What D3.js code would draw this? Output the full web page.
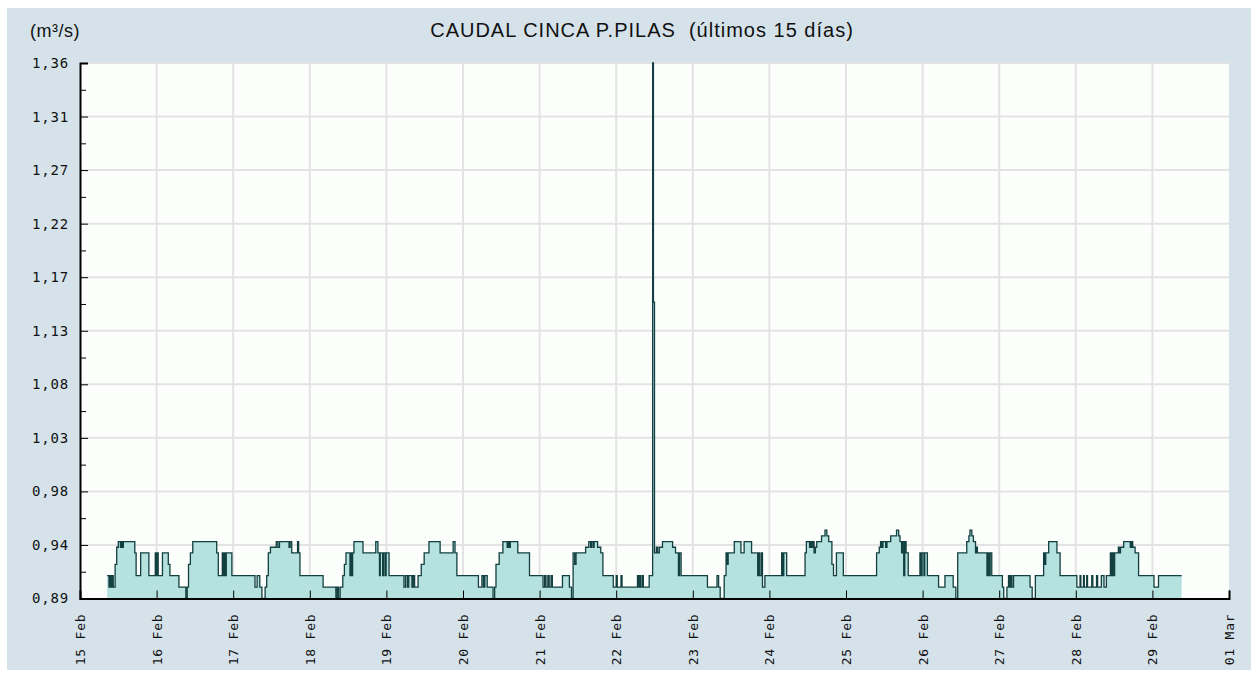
<!DOCTYPE html>
<html lang="es">
<head>
<meta charset="UTF-8">
<title>Caudal Cinca P.Pilas</title>
<script src="https://d3js.org/d3.v7.min.js"></script>
<style>
    body { margin: 0; background: #ffffff; }
    svg text { fill: #111; }
    .title { font-family: "Liberation Sans", Arial, sans-serif; font-size: 20px; letter-spacing: 1px; }
    .unit { font-family: "Liberation Sans", Arial, sans-serif; font-size: 18px; letter-spacing: 0.5px; }
    .axis text { font-family: "DejaVu Sans Mono", monospace; font-size: 14px; letter-spacing: 0.8px; }
    .axis.xaxis text { font-size: 13px; letter-spacing: 0.8px; }
    .axis path, .axis line { stroke: #000; }
    .grid line { stroke: #e3e3e3; stroke-width: 2; }
</style>
</head>
<body>
<div id="chart"></div>
<script>
    const width = 1258;
    const height = 677;
    const margin = { top: 63, right: 29, bottom: 78.5, left: 80 };

    // caudal (m3/s), cambios de nivel: [dia hh:mm, valor]  (febrero 2024)
    const flow = [
        ["15 08:30", 0.91], ["15 09:05", 0.90], ["15 09:25", 0.91], ["15 09:40", 0.90], ["15 10:05", 0.91],
        ["15 10:25", 0.90], ["15 11:00", 0.92], ["15 11:30", 0.935], ["15 12:00", 0.94], ["15 12:40", 0.935],
        ["15 13:00", 0.94], ["15 13:20", 0.935], ["15 13:35", 0.94], ["15 17:10", 0.93], ["15 17:35", 0.91],
        ["15 19:00", 0.93], ["15 21:35", 0.91], ["15 23:35", 0.93], ["15 23:55", 0.91],
        ["16 00:05", 0.93], ["16 00:30", 0.91], ["16 01:50", 0.93], ["16 03:40", 0.92], ["16 04:10", 0.91],
        ["16 07:00", 0.90], ["16 09:10", 0.89], ["16 09:35", 0.90], ["16 10:00", 0.92], ["16 10:35", 0.93],
        ["16 11:20", 0.94], ["16 18:50", 0.93], ["16 19:20", 0.91], ["16 20:35", 0.93], ["16 20:55", 0.91],
        ["16 21:10", 0.93], ["16 21:30", 0.91], ["16 21:50", 0.93], ["16 23:35", 0.91],
        ["17 06:50", 0.90], ["17 07:30", 0.91], ["17 08:20", 0.90], ["17 09:00", 0.89], ["17 10:00", 0.90],
        ["17 10:30", 0.91], ["17 11:00", 0.93], ["17 11:40", 0.935], ["17 13:30", 0.94], ["17 14:00", 0.935],
        ["17 14:30", 0.94], ["17 17:30", 0.935], ["17 17:50", 0.94], ["17 18:20", 0.93], ["17 20:10", 0.94],
        ["17 20:30", 0.93], ["17 20:55", 0.91],
        ["18 04:10", 0.90], ["18 08:10", 0.89], ["18 08:35", 0.90], ["18 09:00", 0.89], ["18 09:30", 0.90],
        ["18 10:20", 0.91], ["18 10:50", 0.92], ["18 11:20", 0.93], ["18 12:35", 0.91], ["18 12:55", 0.93],
        ["18 13:10", 0.91], ["18 13:25", 0.93], ["18 13:50", 0.94], ["18 16:40", 0.93], ["18 20:40", 0.94],
        ["18 21:20", 0.93], ["18 21:50", 0.91], ["18 22:05", 0.93], ["18 22:50", 0.91], ["18 23:05", 0.93],
        ["18 23:35", 0.91], ["18 23:55", 0.93],
        ["19 00:50", 0.91], ["19 05:30", 0.90], ["19 06:00", 0.91], ["19 06:35", 0.90], ["19 07:00", 0.91],
        ["19 08:00", 0.90], ["19 08:25", 0.91], ["19 08:50", 0.90], ["19 09:55", 0.91], ["19 10:55", 0.92],
        ["19 11:50", 0.93], ["19 13:20", 0.94], ["19 16:50", 0.93], ["19 20:55", 0.94], ["19 21:30", 0.93],
        ["19 22:05", 0.91],
        ["20 04:50", 0.90], ["20 05:55", 0.91], ["20 06:25", 0.90], ["20 06:50", 0.91], ["20 07:35", 0.90],
        ["20 09:25", 0.89], ["20 09:55", 0.90], ["20 10:20", 0.92], ["20 11:20", 0.93], ["20 12:30", 0.94],
        ["20 13:50", 0.935], ["20 14:05", 0.94], ["20 14:30", 0.935], ["20 14:50", 0.94], ["20 17:10", 0.93],
        ["20 20:50", 0.91],
        ["21 01:05", 0.90], ["21 01:35", 0.91], ["21 02:00", 0.90], ["21 02:35", 0.91], ["21 03:00", 0.90],
        ["21 03:35", 0.91], ["21 04:00", 0.90], ["21 07:10", 0.91], ["21 09:20", 0.90], ["21 10:00", 0.89],
        ["21 10:30", 0.93], ["21 11:00", 0.92], ["21 11:25", 0.93], ["21 14:25", 0.935], ["21 15:25", 0.94],
        ["21 16:00", 0.935], ["21 16:20", 0.94], ["21 16:50", 0.935], ["21 17:05", 0.94], ["21 18:10", 0.935],
        ["21 19:10", 0.93], ["21 19:50", 0.91], ["21 23:05", 0.90],
        ["22 00:00", 0.91], ["22 00:20", 0.90], ["22 01:30", 0.91], ["22 01:50", 0.90], ["22 06:40", 0.91],
        ["22 07:00", 0.90], ["22 07:25", 0.91], ["22 07:40", 0.90], ["22 08:10", 0.91], ["22 08:30", 0.90],
        ["22 10:20", 0.91], ["22 11:25", 1.36], ["22 11:40", 1.15], ["22 12:00", 0.93], ["22 12:35", 0.935],
        ["22 13:00", 0.93], ["22 13:30", 0.935], ["22 14:30", 0.94], ["22 17:40", 0.935], ["22 18:35", 0.93],
        ["22 19:30", 0.91], ["22 19:50", 0.93], ["22 20:20", 0.91],
        ["23 04:35", 0.90], ["23 07:35", 0.91], ["23 08:05", 0.90], ["23 08:35", 0.89], ["23 09:50", 0.91],
        ["23 10:25", 0.93], ["23 10:50", 0.92], ["23 11:05", 0.93], ["23 13:00", 0.94], ["23 15:05", 0.93],
        ["23 16:05", 0.94], ["23 18:25", 0.93], ["23 20:20", 0.91], ["23 20:35", 0.93], ["23 21:00", 0.91],
        ["23 21:30", 0.93], ["23 21:50", 0.90], ["23 22:35", 0.91],
        ["24 03:50", 0.93], ["24 04:10", 0.91], ["24 04:30", 0.93], ["24 05:25", 0.91], ["24 11:10", 0.93],
        ["24 11:35", 0.94], ["24 12:35", 0.935], ["24 12:55", 0.94], ["24 13:20", 0.935], ["24 13:35", 0.94],
        ["24 14:00", 0.93], ["24 14:25", 0.935], ["24 14:50", 0.94], ["24 16:20", 0.945], ["24 17:25", 0.95],
        ["24 18:00", 0.945], ["24 18:35", 0.94], ["24 19:35", 0.92], ["24 20:05", 0.91], ["24 21:00", 0.93],
        ["24 23:10", 0.91],
        ["25 09:35", 0.93], ["25 10:25", 0.935], ["25 10:50", 0.94], ["25 11:10", 0.935], ["25 11:35", 0.94],
        ["25 12:25", 0.935], ["25 12:50", 0.94], ["25 14:00", 0.945], ["25 15:50", 0.95], ["25 16:30", 0.945],
        ["25 16:55", 0.94], ["25 17:25", 0.93], ["25 17:40", 0.94], ["25 18:05", 0.91], ["25 18:25", 0.94],
        ["25 18:50", 0.93], ["25 19:30", 0.91], ["25 23:10", 0.93], ["25 23:30", 0.91], ["25 23:50", 0.93],
        ["26 00:25", 0.91], ["26 00:40", 0.93], ["26 01:30", 0.91], ["26 05:00", 0.90], ["26 07:00", 0.91],
        ["26 09:35", 0.90], ["26 10:25", 0.89], ["26 11:00", 0.93], ["26 13:50", 0.94], ["26 14:30", 0.945],
        ["26 14:50", 0.95], ["26 15:25", 0.945], ["26 15:55", 0.94], ["26 16:35", 0.93], ["26 16:55", 0.935],
        ["26 17:10", 0.93], ["26 20:10", 0.91], ["26 20:30", 0.93], ["26 20:55", 0.91], ["26 21:10", 0.93],
        ["26 21:40", 0.91],
        ["27 01:00", 0.90], ["27 01:25", 0.89], ["27 02:25", 0.90], ["27 02:55", 0.91], ["27 03:10", 0.90],
        ["27 03:35", 0.91], ["27 04:00", 0.90], ["27 04:30", 0.91], ["27 09:40", 0.90], ["27 10:20", 0.89],
        ["27 11:20", 0.91], ["27 13:55", 0.93], ["27 14:20", 0.92], ["27 14:35", 0.93], ["27 15:30", 0.94],
        ["27 18:05", 0.93], ["27 19:05", 0.91],
        ["28 00:20", 0.90], ["28 01:20", 0.91], ["28 01:35", 0.90], ["28 02:25", 0.91], ["28 02:40", 0.90],
        ["28 03:25", 0.91], ["28 03:40", 0.90], ["28 05:00", 0.91], ["28 05:20", 0.90], ["28 06:30", 0.91],
        ["28 06:50", 0.90], ["28 08:00", 0.91], ["28 08:50", 0.90], ["28 09:35", 0.91], ["28 10:50", 0.93],
        ["28 11:10", 0.91], ["28 11:30", 0.93], ["28 11:55", 0.91], ["28 12:10", 0.93], ["28 13:20", 0.935],
        ["28 13:35", 0.93], ["28 14:00", 0.935], ["28 15:00", 0.94], ["28 17:05", 0.935], ["28 17:30", 0.94],
        ["28 17:50", 0.935], ["28 18:35", 0.93], ["28 19:40", 0.91],
        ["29 00:30", 0.90], ["29 01:55", 0.91], ["29 09:10", 0.91]
    ];

    const yTicks = [0.89, 0.937, 0.984, 1.031, 1.078, 1.125, 1.172, 1.219, 1.266, 1.313, 1.36];
    const yDomain = [0.89, 1.36];
    const xDomain = ["2024-02-15 00:00", "2024-03-01 00:00"];
    const titleText = "CAUDAL CINCA P.PILAS  (últimos 15 días)";
    const unitText = "(m³/s)";

    const parse = d3.timeParse("%Y-%m-%d %H:%M");
    const data = flow.map(d => ({ t: parse("2024-02-" + d[0]), v: d[1] }));

    const svg = d3.select("#chart").append("svg")
        .attr("width", width)
        .attr("height", height);

    // fondo del panel
    svg.append("rect")
        .attr("x", 7).attr("y", 8)
        .attr("width", width - 14).attr("height", height - 15)
        .attr("fill", "#d5e2ea");

    const x = d3.scaleTime()
        .domain(xDomain.map(parse))
        .range([margin.left, width - margin.right]);

    const y = d3.scaleLinear()
        .domain(yDomain)
        .range([height - margin.bottom, margin.top]);

    // area de trazado
    svg.append("rect")
        .attr("x", x.range()[0]).attr("y", y.range()[1])
        .attr("width", x.range()[1] - x.range()[0])
        .attr("height", y.range()[0] - y.range()[1])
        .attr("fill", "#fcfefc");

    // rejilla
    const days = d3.timeDay.range(x.domain()[0], x.domain()[1]).slice(1);
    svg.append("g").attr("class", "grid")
        .selectAll("line")
        .data(days)
        .join("line")
        .attr("x1", d => x(d)).attr("x2", d => x(d))
        .attr("y1", y.range()[0]).attr("y2", y.range()[1]);

    svg.append("g").attr("class", "grid")
        .selectAll("line")
        .data(yTicks.slice(1))
        .join("line")
        .attr("x1", x.range()[0]).attr("x2", x.range()[1])
        .attr("y1", d => y(d)).attr("y2", d => y(d));

    // serie
    const area = d3.area()
        .x(d => x(d.t))
        .y0(y(yDomain[0]))
        .y1(d => y(d.v))
        .curve(d3.curveStepAfter);

    const line = d3.line()
        .x(d => x(d.t))
        .y(d => y(d.v))
        .curve(d3.curveStepAfter);

    svg.append("path")
        .datum(data)
        .attr("fill", "#b5e2df")
        .attr("d", area);

    svg.append("path")
        .datum(data)
        .attr("fill", "none")
        .attr("stroke", "#123f3f")
        .attr("stroke-width", 1.3)
        .attr("d", line);

    // ejes
    const fmt = d => d3.format(".2f")(d).replace(".", ",");

    svg.append("g")
        .attr("class", "axis")
        .attr("transform", `translate(${margin.left},0)`)
        .call(d3.axisLeft(y).tickValues(yTicks).tickFormat(fmt).tickSize(-8).tickPadding(11))
        .call(g => g.select(".domain").attr("stroke-width", 2));

    const minor = d3.pairs(yTicks).map(p => (p[0] + p[1]) / 2);
    svg.append("g")
        .attr("class", "axis")
        .attr("transform", `translate(${margin.left},0)`)
        .call(d3.axisLeft(y).tickValues(minor).tickFormat("").tickSize(-6))
        .call(g => g.select(".domain").remove());

    svg.append("g")
        .attr("class", "axis xaxis")
        .attr("transform", `translate(0,${height - margin.bottom})`)
        .call(d3.axisBottom(x).ticks(d3.timeDay.every(1)).tickFormat(d3.timeFormat("%d %b")).tickSize(-8))
        .call(g => g.select(".domain").attr("stroke-width", 2))
        .call(g => g.selectAll("text")
            .attr("transform", "rotate(-90)")
            .attr("text-anchor", "end")
            .attr("x", -15)
            .attr("y", 0)
            .attr("dy", "0.35em"));

    // titulos
    svg.append("text")
        .attr("class", "title")
        .attr("x", 642).attr("y", 37)
        .attr("text-anchor", "middle")
        .style("white-space", "pre")
        .text(titleText);

    svg.append("text")
        .attr("class", "unit")
        .attr("x", 30).attr("y", 37)
        .text(unitText);
</script>
</body>
</html>
